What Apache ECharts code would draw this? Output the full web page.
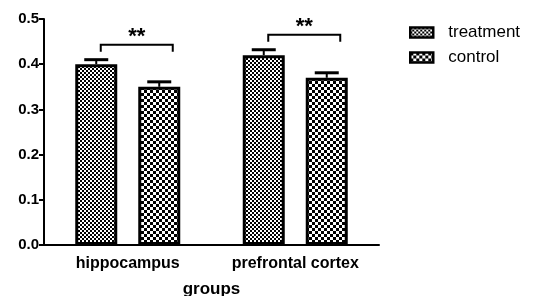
<!DOCTYPE html>
<html>
<head>
<meta charset="utf-8">
<script src="https://cdn.jsdelivr.net/npm/echarts@6/dist/echarts.min.js"></script>
<style>
  html, body { margin: 0; padding: 0; background: #fff; }
  #chart { width: 536px; height: 296px; }
</style>
</head>
<body>
<div id="chart"></div>
<script>
// data
const groups = ['hippocampus', 'prefrontal cortex'];
const treatment = [0.40, 0.42];
const treatmentErr = [0.01, 0.012];
const control = [0.35, 0.37];
const controlErr = [0.011, 0.011];
const bracketY = [0.443, 0.465];
const sigLabels = ['**', '**'];
const yTicks = [0, 0.1, 0.2, 0.3, 0.4, 0.5];

const BAR_W = 42;
const BAR_GAP = 21; // px between the two bars

// checkerboard patterns
function checker(size, cell) {
  const c = document.createElement('canvas');
  c.width = size; c.height = size;
  const ctx = c.getContext('2d');
  ctx.fillStyle = '#fff';
  ctx.fillRect(0, 0, size, size);
  ctx.fillStyle = '#000';
  ctx.fillRect(0, 0, cell, cell);
  ctx.fillRect(cell, cell, cell, cell);
  return c;
}
const finePattern = { image: checker(4, 2), repeat: 'repeat' };
const coarsePattern = { image: checker(6, 3), repeat: 'repeat' };

const offset = (BAR_W + BAR_GAP) / 2;
const FONT = 'Liberation Sans, Arial, sans-serif';

function errorSeries(vals, errs, dx) {
  return {
    type: 'custom',
    silent: true,
    z: 1,
    data: vals.map((v, i) => [i, v, errs[i]]),
    renderItem(params, api) {
      const x = api.coord([api.value(0), 0])[0] + dx;
      const top = api.coord([0, api.value(1)])[1];
      const hi = api.coord([0, api.value(1) + api.value(2)])[1];
      const cap = 12;
      return {
        type: 'group',
        children: [
          { type: 'line', shape: { x1: x, y1: top, x2: x, y2: hi }, style: { stroke: '#000', lineWidth: 2 } },
          { type: 'line', shape: { x1: x - cap, y1: hi, x2: x + cap, y2: hi }, style: { stroke: '#000', lineWidth: 3 } }
        ]
      };
    }
  };
}

const chart = echarts.init(document.getElementById('chart'));
chart.setOption({
  backgroundColor: '#fff',
  animation: false,
  textStyle: { fontFamily: FONT },
  grid: { left: 44, right: 157, top: 19, bottom: 51, outerBoundsMode: 'none' },
  legend: {
    data: [
      { name: 'treatment', itemStyle: { borderWidth: 2.5 } },
      { name: 'control', itemStyle: { borderWidth: 2.5 } }
    ],
    orient: 'vertical',
    left: 404,
    top: 19,
    itemWidth: 23,
    itemHeight: 10,
    itemGap: 8,
    icon: 'rect',
    textStyle: { fontSize: 17, color: '#000', padding: [0, 0, 0, 10] }
  },
  xAxis: {
    type: 'category',
    data: groups,
    name: 'groups',
    nameLocation: 'middle',
    nameGap: 36,
    nameTextStyle: { fontSize: 17, fontWeight: 'bold', color: '#000' },
    axisLine: { lineStyle: { color: '#000', width: 2 } },
    axisTick: { alignWithLabel: true, length: 5, lineStyle: { color: '#000', width: 2 } },
    axisLabel: { fontSize: 16, fontWeight: 'bold', color: '#000', margin: 11 }
  },
  yAxis: {
    type: 'value',
    min: 0,
    max: 0.5,
    interval: 0.1,
    splitLine: { show: false },
    axisLine: { show: true, lineStyle: { color: '#000', width: 2 } },
    axisTick: { show: true, length: 5, lineStyle: { color: '#000', width: 2 } },
    axisLabel: {
      fontSize: 15, fontWeight: 'bold', color: '#000', margin: 5,
      formatter: v => yTicks.includes(+v.toFixed(1)) ? v.toFixed(1) : ''
    }
  },
  series: [
    {
      name: 'treatment',
      type: 'bar',
      data: treatment,
      barWidth: BAR_W,
      barGap: (BAR_GAP / BAR_W * 100) + '%',
      z: 2,
      itemStyle: { color: finePattern, borderColor: '#000', borderWidth: 3 }
    },
    {
      name: 'control',
      type: 'bar',
      data: control,
      barWidth: BAR_W,
      z: 2,
      itemStyle: { color: coarsePattern, borderColor: '#000', borderWidth: 3 }
    },
    errorSeries(treatment, treatmentErr, -offset),
    errorSeries(control, controlErr, offset),
    {
      type: 'custom',
      silent: true,
      z: 3,
      data: bracketY.map((v, i) => [i, v, sigLabels[i]]),
      renderItem(params, api) {
        const c = api.coord([api.value(0), api.value(1)]);
        const x1 = c[0] - 27, x2 = c[0] + 45, y = c[1], drop = 7;
        return {
          type: 'group',
          children: [
            { type: 'polyline', shape: { points: [[x1, y + drop], [x1, y], [x2, y], [x2, y + drop]] },
              style: { stroke: '#000', lineWidth: 2, fill: null } },
            { type: 'text', style: { text: api.value(2), x: (x1 + x2) / 2, y: y + 3,
              align: 'center', verticalAlign: 'bottom', fontSize: 22, fontWeight: 'bold', fill: '#000',
              fontFamily: FONT } }
          ]
        };
      }
    }
  ]
});
</script>
</body>
</html>
